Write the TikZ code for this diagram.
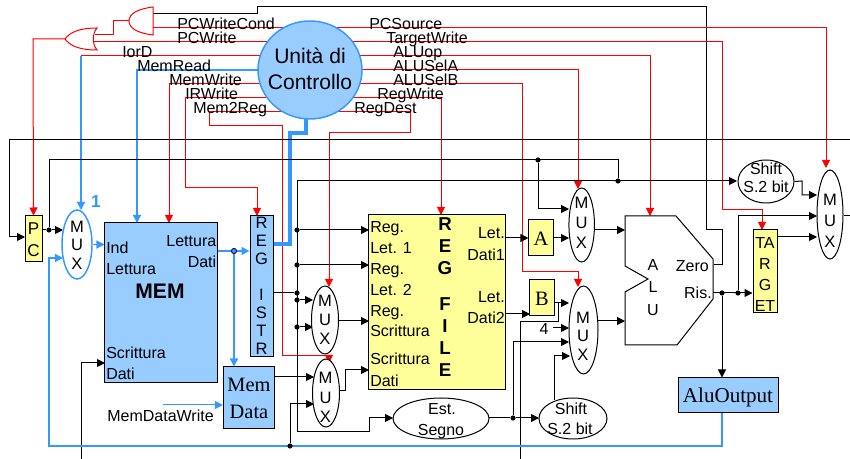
\documentclass[tikz,border=0pt]{standalone}
\usepackage{fontspec}
\setmainfont{Liberation Sans}
\newfontfamily\serifx{Liberation Serif}
\usetikzlibrary{arrows.meta,shapes.geometric}
\definecolor{ybox}{HTML}{FFFF99}
\definecolor{bbox}{HTML}{99CCFF}
\definecolor{bwire}{HTML}{3399FF}
\pgfdeclarelayer{wires}
\pgfsetlayers{wires,main}
\tikzset{
  wh/.style 2 args={minimum width=#1*0.75pt,minimum height=#2*0.75pt},
  yb/.style={draw=black,fill=ybox,line width=.75pt,inner sep=0pt,rectangle},
  bb/.style={draw=black,fill=bbox,line width=.75pt,inner sep=0pt,rectangle},
  mx/.style={draw=black,fill=white,line width=.75pt,inner sep=0pt,ellipse},
  dotn/.style={circle,fill=black,inner sep=0pt,minimum size=3.9pt},
  txt/.style={inner sep=0pt,font=\fontsize{12}{13.5}\selectfont},
  lw/.style={txt,anchor=base west},
  le/.style={txt,anchor=base east},
  lc/.style={txt,anchor=base},
  stk/.style={inner sep=0pt,align=center,font=\fontsize{12.4}{#1}\selectfont},
  ser/.style={inner sep=0pt,anchor=base,font=\serifx\fontsize{15.3}{20}\selectfont},
  tip/.style={-{Triangle[length=6pt,width=6pt]}},
  rw/.style={red,line width=.75pt},
  kw/.style={black,line width=.75pt},
  bw/.style={bwire,line width=1.1pt},
}
\begin{document}
\begin{tikzpicture}[x=.75pt,y=-.75pt]
\useasboundingbox (0,0) rectangle (850,459);
% ---------- blocks ----------
\node[mx,draw=bwire,fill=bbox,line width=1.1pt,wh={104}{98}] (ctrl) at (310,70) {};
\node[yb,wh={17}{46}] (pc) at (33.5,239) {};
\node[mx,draw=bwire,line width=1.1pt,wh={30}{69}] (m1) at (77,244.5) {};
\node[bb,wh={112.5}{160}] (mem) at (161.2,303) {};
\node[bb,wh={23}{141}] (ir) at (261.5,286.5) {};
\node[bb,wh={51.5}{62}] (md) at (249.2,398) {};
\node[mx,wh={27}{68}] (m2) at (325,320) {};
\node[mx,wh={27}{68}] (m3) at (326,393) {};
\node[yb,wh={136.5}{175}] (rf) at (437.2,302.5) {};
\node[mx,wh={96}{41}] (est) at (441,418.5) {};
\node[mx,wh={68}{41}] (sh2) at (573,418.5) {};
\node[yb,wh={24.5}{36}] (ra) at (541.2,238) {};
\node[yb,wh={24.5}{36}] (rb) at (542.2,298) {};
\node[mx,wh={25.5}{74}] (m4) at (581.7,225) {};
\node[mx,wh={29}{88}] (m5) at (583.5,330) {};
\node[bb,wh={100}{35}] (ao) at (728,395.5) {};
\node[yb,wh={24}{83}] (tg) at (765,271.5) {};
\node[mx,wh={56}{43}] (sh1) at (766,181.5) {};
\node[mx,wh={26}{89}] (m6) at (830,214.5) {};
\draw[line width=.75pt,fill=white]
  (625,216) -- (676,216) -- (713,259) -- (713,299) -- (677,345) -- (625,345)
  -- (625,292) -- (648,279) -- (625,266) -- cycle;
% gates
\draw[red,line width=.75pt,fill=white] (153,7) .. controls (137,9) and (129,14) .. (129,21)
  .. controls (129,28) and (137,33) .. (153,35) -- cycle;
\draw[red,line width=.75pt,fill=white] (97,28) .. controls (80,28) and (70,32) .. (65,39)
  .. controls (70,46) and (80,50) .. (97,50) .. controls (92,44) and (92,34) .. (97,28) -- cycle;
\coordinate (andOut) at (129,21);
\coordinate (andA) at (153,14);
\coordinate (andB) at (153,28);
\coordinate (orOut) at (65,39);
\coordinate (orA) at (95,35);
\coordinate (orB) at (92,42);
% junction dots
\node[dotn] (d1) at (49,230) {};
\node[dotn] (d2) at (538,160) {};
\node[dotn] (d3) at (618,181) {};
\node[dotn] (d4) at (297,230) {};
\node[dotn] (d5) at (297,265) {};
\node[dotn] (d6) at (297,293) {};
\node[dotn] (d7) at (297,300) {};
\node[dotn] (d8) at (297,327) {};
\node[dotn] (d9) at (290,446) {};
\node[dotn] (d10) at (513,418) {};
\node[dotn] (d11) at (722,293) {};
\node[dotn] (d12) at (738,293) {};
\node[circle,fill=bwire,draw=black,line width=.6pt,inner sep=0pt,minimum size=3.9pt] (dm) at (234,251) {};
% free ends and ports
\coordinate (frameR) at (850,140);
\coordinate (frameL) at (9,140);
\coordinate (pcIn) at (25,237);
\coordinate (memW) at (81,459);
\coordinate (rbBack) at (520,459);
\coordinate (m6Out) at (850,216);
\coordinate (mdwS) at (163,405);
\begin{pgfonlayer}{wires}
% control signals
\draw[rw,tip] (orOut) -- (33,39) -- (pc.north);
\draw[rw] (andOut) -- (113,21) -- (113,35) -- (orA);
\draw[rw] (orB) -- (ctrl |- orB);
\draw[rw] (andB) -- (ctrl |- andB);
\draw[kw] (andA) -- (257,14) -- (257,7) -- (706,7) -- (706,230) -- (722,230) -- (722,265) -- (714,265);
\draw[rw,tip] (ctrl |- 0,28) -- (826,28) -- (826,168);
\draw[rw,tip] (ctrl |- 0,42) -- (722,42) -- (722,210) -- (762,210) -- (762,230);
\draw[rw,tip] (ctrl |- 0,56) -- (650,56) -- (650,216);
\draw[rw,tip] (ctrl |- 0,70) -- (578,70) -- (578,189);
\draw[rw,tip] (ctrl |- 0,84) -- (522,84) -- (522,272) -- (578,272) -- (578,287);
\draw[rw,tip] (ctrl |- 0,98) -- (441,98) -- (441,215);
\draw[rw,tip] (ctrl |- 0,112) -- (410,112) -- (410,133) -- (329,133) -- (329,287);
\draw[rw,tip] (ctrl |- 0,112) -- (209,112) -- (209,126) -- (282,126) -- (282,356) -- (329,356) -- (329,363);
\draw[rw,tip] (ctrl |- 0,98) -- (185,98) -- (185,188) -- (257,188) -- (257,216);
\draw[rw,tip] (ctrl |- 0,84) -- (169,84) -- (169,223);
\draw[rw] (ctrl |- 0,56) -- (81,56);
\draw[bw,tip] (81,56) -- (81,210);
\draw[bw,tip] (ctrl |- 0,70) -- (137,70) -- (137,223);
\draw[bwire,line width=2.5pt] (306,110) -- (306,133) -- (290,133) -- (290,244) -- (ir.east |- 0,244);
% black data paths
\draw[kw] (frameR) -- (frameL);
\draw[kw,tip] (frameL) -- (9,237) -- (pcIn);
\draw[kw] (d1) -- (49,160) -- (618,160) -- (d3);
\draw[kw,tip] (pc.east |- d1) -- (d1) -- (63,230);
\draw[kw,tip] (d2) -- (538,209) -- (569,209);
\draw[kw,tip] (297,432) -- (297,181) -- (737,181);
\draw[kw,tip] (297,432) -- (369,432) -- (369,418) -- (393,418);
\draw[kw,tip] (d4) -- (369,230);
\draw[kw,tip] (d5) -- (369,265);
\draw[kw] (ir.east |- d6) -- (d6);
\draw[kw,tip] (d7) -- (313,300);
\draw[kw,tip] (d8) -- (313,327);
\draw[kw,tip] (md.east |- 0,377) -- (314,377);
\draw[kw,tip] (d9) -- (290,404) -- (314,404);
\draw[kw,tip] (338,321) -- (369,321);
\draw[kw,tip] (339,391) -- (345,391) -- (345,370) -- (369,370);
\draw[kw,tip] (memW) -- (81,363) -- (105,363);
\draw[kw,tip] (505,238) -- (ra.west);
\draw[kw,tip] (ra.east) -- (569,238);
\draw[kw,tip] (505,314) -- (530,314);
\draw[kw,tip] (rb.east |- 0,303) -- (569,303);
\draw[kw] (558,303) -- (558,322) -- (520,322) -- (rbBack);
\draw[kw,tip] (553,328) -- (569,328);
\draw[kw,tip] (d10) -- (513,342) -- (569,342);
\draw[kw,tip] (489,418) -- (d10) -- (539,418);
\draw[kw,tip] (554,400) -- (554,356) -- (570,356);
\draw[kw,tip] (594,230) -- (625,230);
\draw[kw,tip] (597,321) -- (625,321);
\draw[kw,tip] (713,293) -- (tg.west |- 0,293);
\draw[kw,tip] (d11) -- (ao.north -| d11);
\draw[kw,tip] (d12) -- (738,216) -- (817,216);
\draw[kw,tip] (tg.east |- 0,237) -- (817,237);
\draw[kw,tip] (sh1.east) -- (802,181) -- (802,195) -- (817,195);
\draw[kw] (m6.east |- m6Out) -- (m6Out);
% blue data paths
\draw[bw,tip] (m1.east) -- (mem.west |- m1);
\draw[bw,tip] (mem.east |- dm) -- (dm) -- (ir.west |- dm);
\draw[bw,tip] (dm) -- (md.north -| dm);
\draw[bwire,line width=.75pt,tip] (mdwS) -- (md.west |- mdwS);
\draw[bw,tip] (ao.south -| d11) -- (722,446) -- (49,446) -- (49,258) -- (63,258);
\end{pgfonlayer}
% ---------- texts ----------
\node[inner sep=0pt,align=center,font=\fontsize{15.8}{19.5}\selectfont] (ctrlT) at (310,69) {Unità di\\Controllo};
\node[lw] (t1) at (177,30) {PCWriteCond};
\node[lw] (t2) at (177,44) {PCWrite};
\node[lw] (t3) at (122,58) {IorD};
\node[lw] (t4) at (137,72) {MemRead};
\node[lw] (t5) at (169,86) {MemWrite};
\node[lw] (t6) at (185,100) {IRWrite};
\node[lw] (t7) at (193,114) {Mem2Reg};
\node[lw] (t8) at (369,30) {PCSource};
\node[lw] (t9) at (386,44) {TargetWrite};
\node[lw] (t10) at (393,58) {ALUop};
\node[lw] (t11) at (393,72) {ALUSelA};
\node[lw] (t12) at (393,86) {ALUSelB};
\node[lw] (t13) at (377,100) {RegWrite};
\node[lw] (t14) at (354,114) {RegDest};
\node[inner sep=0pt,anchor=base,text=bwire,font=\bfseries\fontsize{13}{13}\selectfont] (one) at (96,208) {1};
\node[inner sep=0pt,align=center,font=\fontsize{12.8}{16.5}\selectfont] (pcT) at (33.5,240) {P\\C};
\node[stk=13.9] (m1T) at (77,245) {M\\U\\X};
\node[lw] (mem1) at (106,254) {Ind};
\node[lw] (mem2) at (106,275) {Lettura};
\node[le] (mem3) at (216.5,247) {Lettura};
\node[le] (mem4) at (216.5,268) {Dati};
\node[inner sep=0pt,anchor=base,font=\bfseries\fontsize{15.8}{16}\selectfont] (memT) at (160,299) {MEM};
\node[lw] (mem5) at (106,359) {Scrittura};
\node[lw] (mem6) at (106,380) {Dati};
\node[stk=13.5] (irT) at (261.5,286) {R\\E\\G\\[0pt]~\\I\\S\\T\\R};
\node[ser] (mdT1) at (249,392) {Mem};
\node[ser] (mdT2) at (249,419) {Data};
\node[lc] (mdw) at (160.5,422) {MemDataWrite};
\node[stk=14.3] (m2T) at (325,320) {M\\U\\X};
\node[stk=14.6] (m3T) at (325.5,397.5) {M\\U\\X};
\node[lw] (r1) at (370,233) {Reg.};
\node[lw] (r2) at (370,254) {Let. 1};
\node[lw] (r3) at (370,275) {Reg.};
\node[lw] (r4) at (370,296) {Let. 2};
\node[lw] (r5) at (370,317) {Reg.};
\node[lw] (r6) at (370,337) {Scrittura};
\node[lw] (r7) at (370,365) {Scrittura};
\node[lw] (r8) at (370,387) {Dati};
\node[le] (r9) at (505,239) {Let.};
\node[le] (r10) at (505,261) {Dati1};
\node[le] (r11) at (505,303) {Let.};
\node[le] (r12) at (505,324) {Dati2};
\node[inner sep=0pt,align=center,font=\bfseries\fontsize{14}{16.5}\selectfont] (rfT) at (445,297) {R\\E\\G\\[10pt]F\\I\\L\\E};
\node[ser] (raT) at (541,246) {A};
\node[ser] (rbT) at (542,306) {B};
\node[stk=15] (m4T) at (581.5,223) {M\\U\\X};
\node[stk=13.9] (m5T) at (583,336) {M\\U\\X};
\node[lc] (four) at (544,335) {4};
\node[lc] (estA) at (442,415) {Est.};
\node[lc] (estB) at (441,436) {Segno};
\node[lc] (shA) at (571,415) {Shift};
\node[lc] (shB) at (570,435) {S.2 bit};
\node[lc] (alu1) at (653,271) {A};
\node[lc] (alu2) at (653,293) {L};
\node[lc] (alu3) at (653,316) {U};
\node[le] (zero) at (709,272) {Zero};
\node[le] (ris) at (712,299) {Ris.};
\node[ser,font=\serifx\fontsize{15.8}{20}\selectfont] (aoT) at (728,403) {AluOutput};
\node[inner sep=0pt,align=center,font=\fontsize{12}{15.75}\selectfont] (tgT) at (765,274.5) {TA\\R\\G\\ET};
\node[lc] (sh1A) at (766,175) {Shift};
\node[lc] (sh1B) at (766,193) {S.2 bit};
\node[stk=15.8] (m6T) at (830,221) {M\\U\\X};
\end{tikzpicture}
\end{document}
